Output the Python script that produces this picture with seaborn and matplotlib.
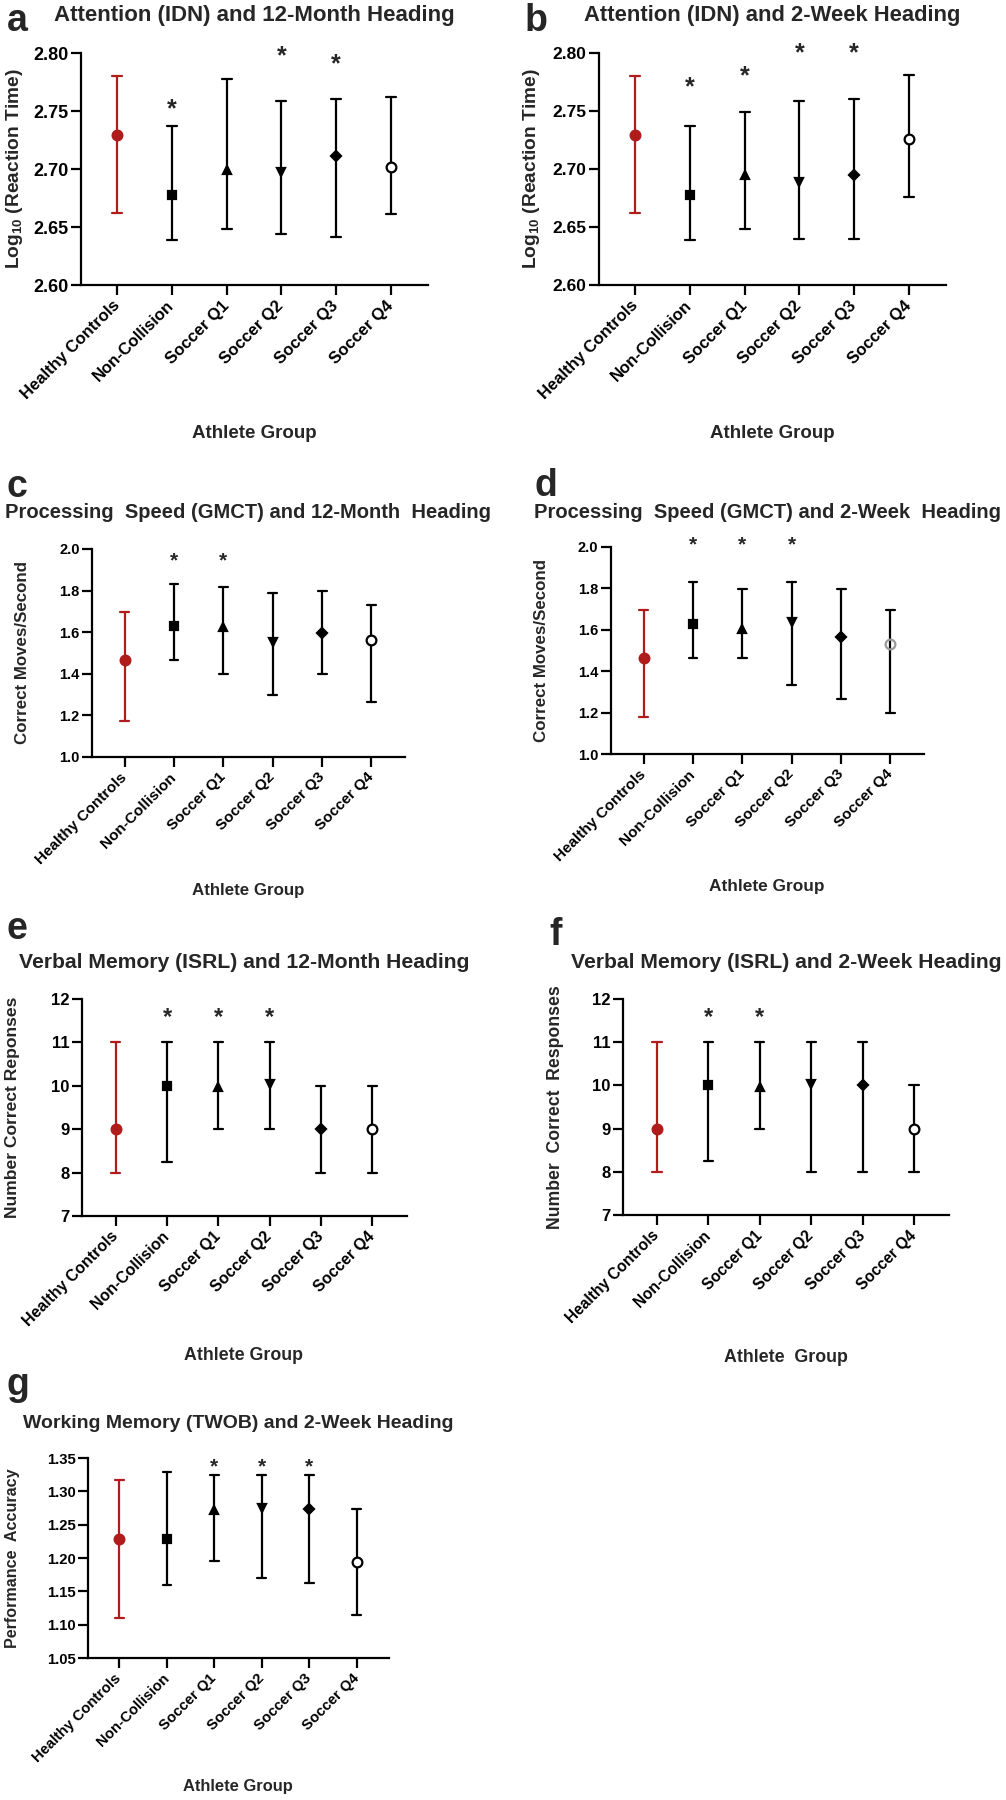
import numpy as np
import pandas as pd
import matplotlib
matplotlib.use("Agg")
import matplotlib.pyplot as plt
import matplotlib.transforms as mtransforms
import seaborn as sns

# ---------------- data ----------------
GROUPS = ["Healthy Controls", "Non-Collision", "Soccer Q1", "Soccer Q2", "Soccer Q3", "Soccer Q4"]

# a: Attention (IDN) and 12-Month Heading
A_MEAN = [2.729, 2.678, 2.699, 2.697, 2.711, 2.702]
A_LO = [2.662, 2.639, 2.648, 2.644, 2.641, 2.661]
A_HI = [2.780, 2.737, 2.778, 2.759, 2.760, 2.762]
A_STAR = [None, 2.758, None, 2.8035, 2.797, None]

# b: Attention (IDN) and 2-Week Heading
B_MEAN = [2.729, 2.678, 2.695, 2.689, 2.695, 2.726]
B_LO = [2.662, 2.639, 2.648, 2.640, 2.640, 2.676]
B_HI = [2.780, 2.737, 2.749, 2.759, 2.760, 2.781]
B_STAR = [None, 2.777, 2.786, 2.8066, 2.8066, None]

# c: Processing Speed (GMCT) and 12-Month Heading
C_MEAN = [1.466, 1.630, 1.624, 1.555, 1.598, 1.563]
C_LO = [1.174, 1.465, 1.397, 1.297, 1.397, 1.265]
C_HI = [1.696, 1.831, 1.815, 1.788, 1.797, 1.732]
C_STAR = [None, 1.976, 1.976, None, None, None]

# d: Processing Speed (GMCT) and 2-Week Heading
D_MEAN = [1.466, 1.630, 1.606, 1.638, 1.566, 1.531]
D_LO = [1.177, 1.466, 1.466, 1.333, 1.268, 1.196]
D_HI = [1.698, 1.831, 1.799, 1.831, 1.799, 1.698]
D_STAR = [None, 2.044, 2.044, 2.044, None, None]

# e: Verbal Memory (ISRL) and 12-Month Heading
E_MEAN = [9.0, 10.0, 9.98, 10.03, 9.0, 9.0]
E_LO = [8.0, 8.25, 9.0, 9.0, 8.0, 8.0]
E_HI = [11.0, 11.0, 11.0, 11.0, 10.0, 10.0]
E_STAR = [None, 11.73, 11.73, 11.73, None, None]

# f: Verbal Memory (ISRL) and 2-Week Heading
F_MEAN = [9.0, 10.0, 9.97, 10.03, 10.0, 9.0]
F_LO = [8.0, 8.25, 9.0, 8.0, 8.0, 8.0]
F_HI = [11.0, 11.0, 11.0, 11.0, 11.0, 10.0]
F_STAR = [None, 11.73, 11.73, None, None, None]

# g: Working Memory (TWOB) and 2-Week Heading
G_MEAN = [1.229, 1.229, 1.272, 1.275, 1.274, 1.194]
G_LO = [1.110, 1.160, 1.195, 1.170, 1.162, 1.114]
G_HI = [1.317, 1.329, 1.325, 1.325, 1.325, 1.273]
G_STAR = [None, None, 1.3465, 1.3465, 1.3465, None]

# ---------------- style ----------------
sns.set_theme(style="ticks")
plt.rcParams["font.family"] = ["Liberation Sans", "DejaVu Sans"]
plt.rcParams["font.weight"] = "bold"
plt.rcParams["axes.labelweight"] = "bold"
plt.rcParams["mathtext.fontset"] = "custom"
plt.rcParams["mathtext.rm"] = "Liberation Sans:bold"
plt.rcParams["mathtext.it"] = "Liberation Sans:bold"
plt.rcParams["mathtext.bf"] = "Liberation Sans:bold"

RED = "#B01C1C"
MARKERS = ["o", "s", "^", "v", "D", "o"]
MSIZE = [7.0, 6.0, 6.2, 6.2, 5.0, 7.0]

W, H = 1006, 1800
fig = plt.figure(figsize=(W / 100, H / 100), dpi=100)
fig.patch.set_facecolor("white")


def fx(px):
    return px / W


def fy(py):
    return 1 - py / H


def make_ax(l, r, t, b):
    return fig.add_axes([l / W, 1 - b / H, (r - l) / W, (b - t) / H])


def draw_panel(box, mean, lo, hi, stars, ylim, yticks, fmt, ytick_fs, xtick_fs,
               star_fs, q4_edge="black", q4_face="white"):
    ax = make_ax(*box)
    df = pd.DataFrame({
        "group": np.repeat(GROUPS, 3),
        "value": np.column_stack([lo, mean, hi]).ravel(),
    })
    for i, g in enumerate(GROUPS):
        sub = df[df["group"] == g]
        col = RED if i == 0 else "black"
        face = col
        edge = col
        if i == 5:
            face = q4_face
            edge = q4_edge
        sns.pointplot(
            data=sub, x="group", y="value", order=GROUPS,
            estimator=np.median, errorbar=lambda v: (v.min(), v.max()),
            color=col, marker=MARKERS[i], markersize=MSIZE[i],
            markerfacecolor=face, markeredgecolor=edge, markeredgewidth=1.6,
            linestyle="none", capsize=0.18, zorder=4,
            err_kws={"linewidth": 1.6, "color": col, "zorder": 3},
            ax=ax,
        )
    ax.set_xlim(-0.66, 5.68)
    ax.set_ylim(*ylim)
    ax.set_yticks(yticks)
    ax.set_yticklabels([fmt.format(v) for v in yticks], fontsize=ytick_fs, fontweight="bold")
    ax.set_xticks(range(len(GROUPS)))
    ax.set_xticklabels(GROUPS, rotation=45, ha="right", va="center",
                       rotation_mode="anchor", fontsize=xtick_fs, fontweight="bold")
    ax.set_xlabel("")
    ax.set_ylabel("")
    for s in ["top", "right"]:
        ax.spines[s].set_visible(False)
    for s in ["left", "bottom"]:
        ax.spines[s].set_linewidth(1.6)
        ax.spines[s].set_color("black")
    ax.tick_params(axis="both", direction="out", length=7, width=1.6, color="black",
                   labelcolor="black")
    ax.tick_params(axis="x", pad=6)
    ax.tick_params(axis="y", pad=2)
    ax.set_facecolor("white")
    ax.grid(False)
    off = mtransforms.offset_copy(ax.transData, fig=fig, y=-0.58 * star_fs, units="points")
    for i, sy in enumerate(stars):
        if sy is not None:
            ax.text(i, sy, "*", ha="center", va="baseline", fontsize=star_fs,
                    fontweight="bold", transform=off, clip_on=False)
    return ax


# a
draw_panel((81, 428, 53, 285), A_MEAN, A_LO, A_HI, A_STAR, (2.60, 2.80),
           [2.60, 2.65, 2.70, 2.75, 2.80], "{:.2f}", 13, 12, 18)
# b
draw_panel((599, 946, 53, 285), B_MEAN, B_LO, B_HI, B_STAR, (2.60, 2.80),
           [2.60, 2.65, 2.70, 2.75, 2.80], "{:.2f}", 12.5, 12, 18)
# c
draw_panel((92, 405, 549, 757), C_MEAN, C_LO, C_HI, C_STAR, (1.0, 2.0),
           [1.0, 1.2, 1.4, 1.6, 1.8, 2.0], "{:.1f}", 10.5, 11, 15)
# d
draw_panel((611, 924, 547, 754), D_MEAN, D_LO, D_HI, D_STAR, (1.0, 2.0),
           [1.0, 1.2, 1.4, 1.6, 1.8, 2.0], "{:.1f}", 10.5, 11, 15, q4_edge="#9a9a9a",
           q4_face="none")
# e
draw_panel((82, 407, 999, 1216), E_MEAN, E_LO, E_HI, E_STAR, (7, 12),
           [7, 8, 9, 10, 11, 12], "{:d}", 12, 11.4, 17)
# f
draw_panel((623, 949, 999, 1215), F_MEAN, F_LO, F_HI, F_STAR, (7, 12),
           [7, 8, 9, 10, 11, 12], "{:d}", 12, 11.2, 17)
# g
draw_panel((88, 389, 1458, 1658), G_MEAN, G_LO, G_HI, G_STAR, (1.05, 1.35),
           [1.05, 1.10, 1.15, 1.20, 1.25, 1.30, 1.35], "{:.2f}", 10.7, 10.7, 15)

# titles
TITLES = [
    ("Attention (IDN) and 12-Month Heading", 254, 15, 16),
    ("Attention (IDN) and 2-Week Heading", 772, 15, 15.8),
    ("Processing  Speed (GMCT) and 12-Month  Heading", 248, 513, 14.5),
    ("Processing  Speed (GMCT) and 2-Week  Heading", 767, 512, 14.5),
    ("Verbal Memory (ISRL) and 12-Month Heading", 244, 963, 15.2),
    ("Verbal Memory (ISRL) and 2-Week Heading", 786, 963, 15.2),
    ("Working Memory (TWOB) and 2-Week Heading", 238, 1423, 14),
]
for t, x, y, fs in TITLES:
    fig.text(fx(x), fy(y), t, ha="center", va="center", fontsize=fs, fontweight="bold")

# panel letters
LETTERS = [("a", 7, 31), ("b", 525, 31), ("c", 7, 497), ("d", 535, 496),
           ("e", 7, 939), ("f", 549, 945), ("g", 7, 1395)]
for t, x, y in LETTERS:
    fig.text(fx(x), fy(y), t, ha="left", va="baseline", fontsize=27, fontweight="bold")

# y labels
YLABELS = [
    ("Log$_{10}$ (Reaction Time)", 15, 169, 13.8),
    ("Log$_{10}$ (Reaction Time)", 531, 169, 13.8),
    ("Correct Moves/Second", 23, 653, 12.2),
    ("Correct Moves/Second", 541, 650, 12.2),
    ("Number Correct Reponses", 13, 1107, 12.6),
    ("Number  Correct  Responses", 555, 1107, 12.7),
    ("Performance  Accuracy", 13, 1558, 11.6),
]
for t, x, y, fs in YLABELS:
    fig.text(fx(x), fy(y), t, ha="center", va="center", rotation=90, fontsize=fs,
             fontweight="bold")

# x labels
XLABELS = [
    ("Athlete Group", 254, 433, 13.5),
    ("Athlete Group", 772, 433, 13.5),
    ("Athlete Group", 248, 890, 12.2),
    ("Athlete Group", 767, 887, 12.4),
    ("Athlete Group", 244, 1355, 12.8),
    ("Athlete  Group", 786, 1357, 12.8),
    ("Athlete Group", 238, 1787, 11.9),
]
for t, x, y, fs in XLABELS:
    fig.text(fx(x), fy(y), t, ha="center", va="center", fontsize=fs, fontweight="bold")

fig.savefig("out.png", dpi=100, facecolor="white")
